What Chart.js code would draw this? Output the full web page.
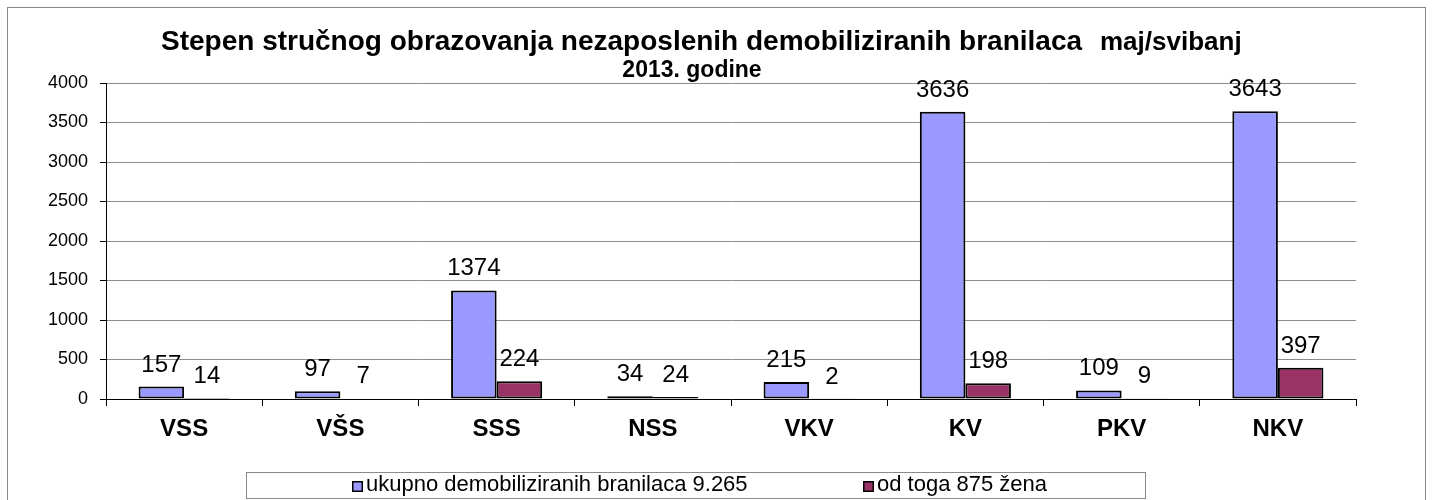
<!DOCTYPE html>
<html>
<head>
<meta charset="utf-8">
<script src="https://cdn.jsdelivr.net/npm/chart.js@4"></script>
<style>
  html, body { margin: 0; padding: 0; background: #fff; }
  #wrap { width: 1433px; height: 500px; position: relative; }
</style>
</head>
<body>
<div id="wrap"><canvas id="chart"></canvas></div>
<script>
// podaci
const categories = ['VSS', 'VŠS', 'SSS', 'NSS', 'VKV', 'KV', 'PKV', 'NKV'];
const ukupno = [157, 97, 1374, 34, 215, 3636, 109, 3643];
const zene = [14, 7, 224, 24, 2, 198, 9, 397];
const seriesLabels = ['ukupno demobiliziranih branilaca 9.265', 'od toga 875 žena'];
const titleMain = 'Stepen stručnog obrazovanja nezaposlenih demobiliziranih branilaca';
const titleMonth = 'maj/svibanj';
const titleYear = '2013. godine';

const FONT = "'Liberation Sans', Arial, sans-serif";

// okvir, naslov, legenda i oznake vrijednosti
const decorPlugin = {
    id: 'decor',
    beforeDraw(chart) {
        const ctx = chart.ctx;
        ctx.save();
        ctx.fillStyle = '#fff';
        ctx.fillRect(0, 0, chart.width, chart.height);
        ctx.strokeStyle = '#8a8a8a';
        ctx.lineWidth = 1;
        ctx.strokeRect(7.5, 7.5, 1418, 520);
        ctx.restore();
    },
    afterDatasetsDraw(chart) {
        const ctx = chart.ctx;
        ctx.save();
        ctx.fillStyle = '#000';
        ctx.font = '24px ' + FONT;
        ctx.textAlign = 'center';
        ctx.textBaseline = 'alphabetic';
        chart.data.datasets.forEach((ds, i) => {
            const meta = chart.getDatasetMeta(i);
            meta.data.forEach((bar, j) => {
                ctx.fillText(String(ds.data[j]), bar.x, bar.y - 15);
            });
        });
        ctx.restore();
    },
    afterDraw(chart) {
        const ctx = chart.ctx;
        ctx.save();
        // naslov
        ctx.fillStyle = '#000';
        ctx.textBaseline = 'alphabetic';
        ctx.textAlign = 'left';
        ctx.font = 'bold 28px ' + FONT;
        ctx.fillText(titleMain, 161, 50);
        ctx.font = 'bold 26px ' + FONT;
        ctx.fillText(titleMonth, 1100, 50);
        ctx.textAlign = 'center';
        ctx.font = 'bold 23px ' + FONT;
        ctx.fillText(titleYear, 692, 77);

        // legenda
        const box = { x: 246.5, y: 472.5, w: 899, h: 26 };
        ctx.strokeStyle = '#8a8a8a';
        ctx.lineWidth = 1;
        ctx.strokeRect(box.x, box.y, box.w, box.h);
        ctx.font = '22px ' + FONT;
        ctx.textAlign = 'left';
        const starts = [352, 863];
        chart.data.datasets.forEach((ds, i) => {
            const mx = starts[i];
            const my = 481;
            ctx.fillStyle = ds.backgroundColor;
            ctx.fillRect(mx, my, 11, 11);
            ctx.strokeStyle = '#000';
            ctx.lineWidth = 1.5;
            ctx.strokeRect(mx + 0.75, my + 0.75, 9.5, 9.5);
            ctx.fillStyle = '#000';
            ctx.fillText(ds.label, mx + 14, 491);
        });
        ctx.restore();
    }
};

new Chart(document.getElementById('chart'), {
    type: 'bar',
    data: {
        labels: categories,
        datasets: [
            {
                label: seriesLabels[0],
                data: ukupno,
                backgroundColor: '#9999ff',
                borderColor: '#000',
                borderWidth: 2,
                borderSkipped: false,
                categoryPercentage: 0.583,
                barPercentage: 1.0
            },
            {
                label: seriesLabels[1],
                data: zene,
                backgroundColor: '#993366',
                borderColor: '#000',
                borderWidth: 2,
                borderSkipped: false,
                categoryPercentage: 0.583,
                barPercentage: 1.0
            }
        ]
    },
    options: {
        responsive: true,
        maintainAspectRatio: false,
        animation: false,
        layout: {
            padding: { left: 0, right: 77, top: 83, bottom: 61 }
        },
        plugins: {
            legend: { display: false },
            title: { display: false },
            tooltip: { enabled: false }
        },
        scales: {
            y: {
                min: 0,
                max: 4000,
                afterFit: s => { s.width = 106; },
                ticks: {
                    stepSize: 500,
                    color: '#000',
                    padding: 12,
                    font: { family: FONT, size: 18 },
                    callback: value => String(value)
                },
                grid: {
                    color: '#8c8c8c',
                    tickColor: '#000',
                    tickLength: 6,
                    lineWidth: 1
                },
                border: { display: true, color: '#000', width: 1 }
            },
            x: {
                afterFit: s => { s.height = 40; },
                ticks: {
                    color: '#000',
                    padding: 9,
                    font: { family: FONT, size: 24, weight: 'bold' }
                },
                grid: {
                    display: true,
                    offset: true,
                    drawOnChartArea: false,
                    drawTicks: true,
                    tickLength: 7,
                    tickColor: '#000'
                },
                border: { display: true, color: '#000', width: 1 }
            }
        }
    },
    plugins: [decorPlugin]
});
</script>
</body>
</html>
